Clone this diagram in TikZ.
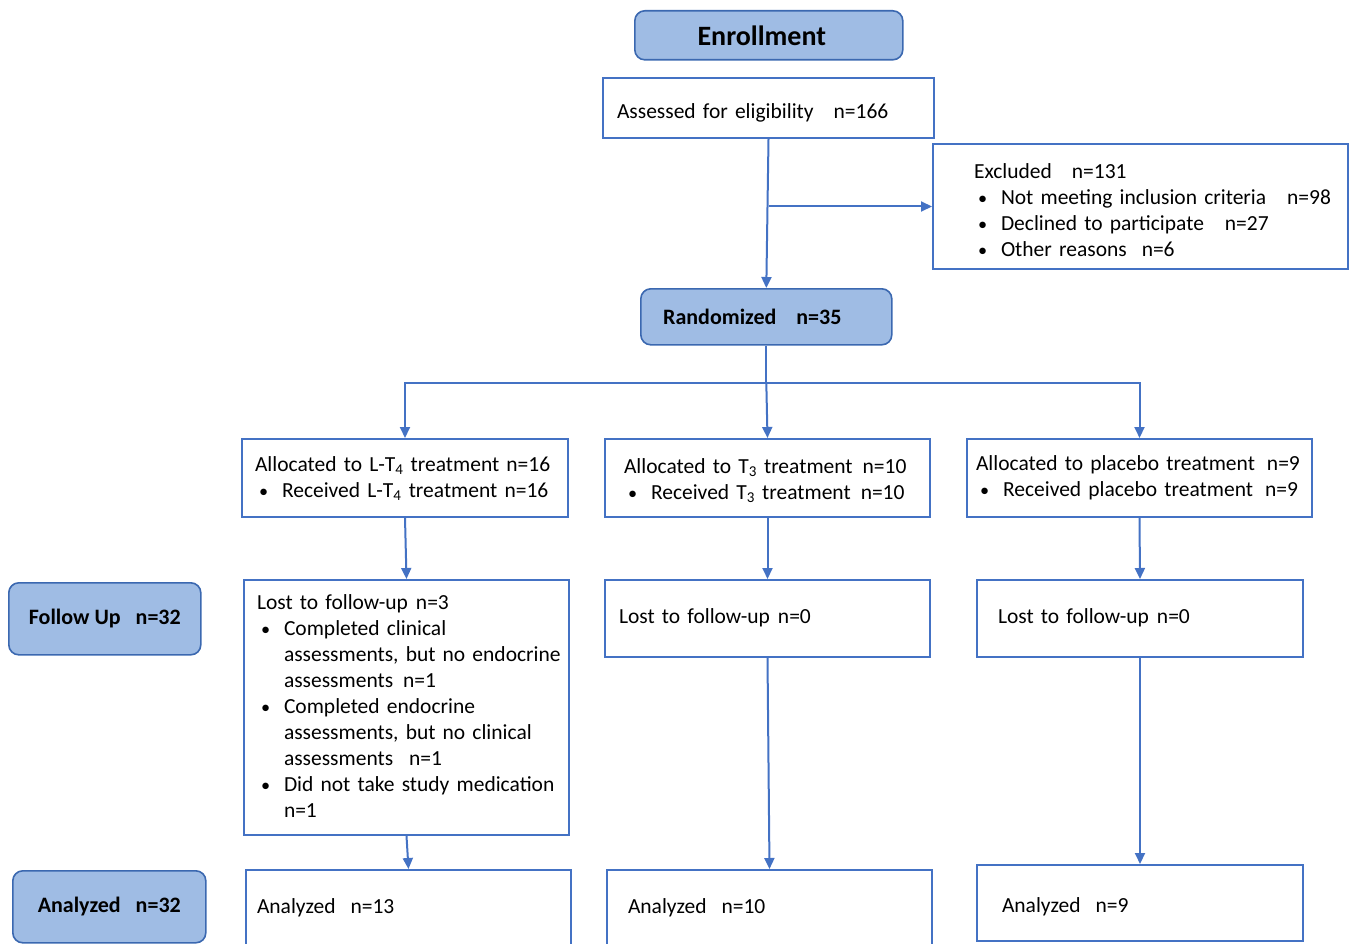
\documentclass[tikz,border=0pt]{standalone}
\usepackage{fontspec}
\setmainfont{Carlito}
\usetikzlibrary{arrows.meta}
\definecolor{lnblue}{HTML}{4472C4}
\definecolor{fillblue}{HTML}{9FBCE4}
\definecolor{bdblue}{HTML}{3B68B0}
\newcommand\bulitem{\makebox[27pt][l]{\hspace*{4pt}\scalebox{0.85}{\textbullet}}}
\newcommand\indnt{\hspace*{27pt}}
\newcommand\txtdown[2]{\raisebox{-#1}[\height][\depth]{#2}}
\begin{document}
\begin{tikzpicture}[x=1pt,y=-1pt,
 box/.style={draw=lnblue, line width=2pt, fill=white, anchor=north west, align=left,
   font=\fontsize{21.5}{26}\selectfont, inner ysep=0pt},
 hdr/.style={draw=bdblue, line width=1.6pt, fill=fillblue, rounded corners=10pt,
   anchor=north west, font=\fontsize{22}{26}\selectfont\bfseries, align=center, inner sep=0pt},
 arr/.style={draw=lnblue, line width=2pt, -{Triangle[length=11pt,width=10pt]}},
 conn/.style={draw=lnblue, line width=2pt}]
\useasboundingbox (0,0) rectangle (1352,944);

\node[hdr, minimum width=268pt, minimum height=49pt, font=\fontsize{28}{30}\selectfont\bfseries] (enr) at (634,10) {Enrollment\hspace*{14pt}};

\node[box, inner xsep=14pt, text width=303pt, minimum height=60pt] (assess) at (602,77)
 {\noindent\txtdown{5pt}{\begin{tabular}{@{}l@{}}Assessed for eligibility\hspace{20pt}n=166\end{tabular}}};

\node[box, inner xsep=41pt, text width=333pt, minimum height=125pt] (excl) at (932,143)
 {\noindent\txtdown{6pt}{\begin{tabular}{@{}l@{}}Excluded\hspace{20pt}n=131\\
 \bulitem Not meeting inclusion criteria\hspace{21pt}n=98\\
 \bulitem Declined to participate\hspace{21pt}n=27\\
 \bulitem Other reasons\hspace{15pt}n=6\end{tabular}}};

\node[hdr, minimum width=251pt, minimum height=56pt] (rand) at (640,288) {Randomized\hspace{20pt}n=35\hspace*{28pt}};

\node[box, inner xsep=13pt, text width=300pt, minimum height=78pt] (al1) at (241,438)
 {\noindent\txtdown{1pt}{\begin{tabular}{@{}l@{}}Allocated to L-T\textsubscript{4} treatment n=16\\
 \bulitem Received L-T\textsubscript{4} treatment n=16\end{tabular}}};
\node[box, inner xsep=19pt, text width=287pt, minimum height=78pt] (al2) at (604,438)
 {\noindent\txtdown{3pt}{\begin{tabular}{@{}l@{}}Allocated to T\textsubscript{3} treatment\hspace{10pt}n=10\\
 \bulitem Received T\textsubscript{3} treatment\hspace{10pt}n=10\end{tabular}}};
\node[box, inner xsep=9pt, text width=327pt, minimum height=78pt] (al3) at (966,438)
 {\noindent\begin{tabular}{@{}l@{}}Allocated to placebo treatment\hspace{12pt}n=9\\
 \bulitem Received placebo treatment\hspace{12pt}n=9\end{tabular}};

\node[hdr, minimum width=192pt, minimum height=72pt] (fu) at (8,582) {Follow Up\hspace{15pt}n=32};

\node[box, inner xsep=13pt, text width=299pt, minimum height=255pt] (lo1) at (243,579)
 {\noindent\txtdown{1pt}{\begin{tabular}{@{}l@{}}Lost to follow-up\hspace{8pt}n=3\\
 \bulitem Completed clinical\\
 \indnt assessments, but no endocrine\\
 \indnt assessments\hspace{10pt}n=1\\
 \bulitem Completed endocrine\\
 \indnt assessments, but no clinical\\
 \indnt assessments\hspace{16pt}n=1\\
 \bulitem Did not take study medication\\
 \indnt n=1\end{tabular}}};
\node[box, inner xsep=14pt, text width=297pt, minimum height=77pt] (lo2) at (604,579)
 {\noindent\begin{tabular}{@{}l@{}}Lost to follow-up\hspace{8pt}n=0\end{tabular}};
\node[box, inner xsep=21pt, text width=284pt, minimum height=77pt] (lo3) at (976,579)
 {\noindent\begin{tabular}{@{}l@{}}Lost to follow-up\hspace{8pt}n=0\end{tabular}};

\node[hdr, minimum width=193pt, minimum height=72pt] (an) at (12,870) {Analyzed\hspace{15pt}n=32};

\node[box, inner xsep=11pt, text width=303pt, minimum height=77pt] (an1) at (245,869)
 {\noindent\begin{tabular}{@{}l@{}}Analyzed\hspace{15pt}n=13\end{tabular}};
\node[box, inner xsep=21pt, text width=283pt, minimum height=77pt] (an2) at (606,869)
 {\noindent\begin{tabular}{@{}l@{}}Analyzed\hspace{15pt}n=10\end{tabular}};
\node[box, inner xsep=25pt, text width=276pt, minimum height=76pt] (an3) at (976,864)
 {\noindent\txtdown{4pt}{\begin{tabular}{@{}l@{}}Analyzed\hspace{15pt}n=9\end{tabular}}};

\draw[arr] (assess.south) -- (rand.north);
\draw[arr] (assess.south |- excl.west) -- (excl.west);
\draw[conn] (rand.south) -- ++(0,37) coordinate (split);
\draw[arr] (split) -| (al1.north);
\draw[arr] (split) -| (al3.north);
\draw[arr] (split) -- (al2.north);
\draw[arr] (al1.south) -- (lo1.north);
\draw[arr] (al2.south) -- (lo2.north);
\draw[arr] (al3.south) -- (lo3.north);
\draw[arr] (lo1.south) -- (an1.north);
\draw[arr] (lo2.south) -- (an2.north);
\draw[arr] (lo3.south) -- (an3.north);
\end{tikzpicture}
\end{document}
